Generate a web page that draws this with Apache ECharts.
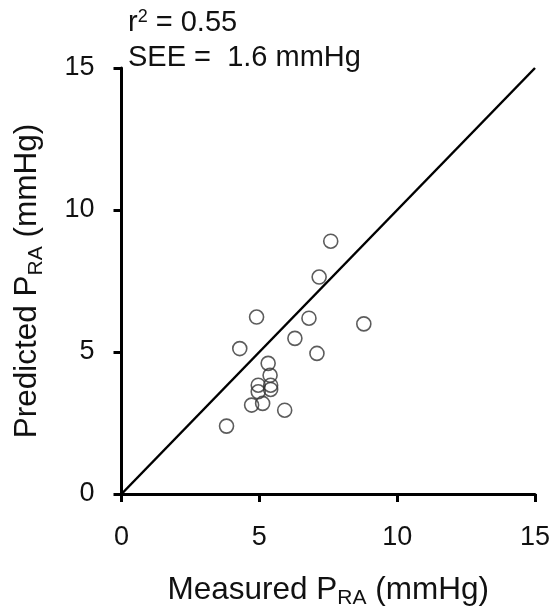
<!DOCTYPE html>
<html>
<head>
<meta charset="utf-8">
<script src="https://cdn.jsdelivr.net/npm/echarts@6/dist/echarts.min.js"></script>
<style>
  html, body { margin: 0; padding: 0; background: #fff; }
  #chart { width: 553px; height: 610px; }
</style>
</head>
<body>
<div id="chart"></div>
<script>
// Measured vs predicted right atrial pressure (mmHg)
const measured  = [7.59, 7.17, 4.90, 6.80, 8.79, 6.29, 4.29, 7.09, 5.32, 5.39, 4.96, 5.41, 5.41, 4.96, 4.72, 5.12, 5.92, 3.81];
const predicted = [8.90, 7.64, 6.23, 6.19, 5.99, 5.48, 5.12, 4.95, 4.60, 4.18, 3.83, 3.83, 3.68, 3.60, 3.13, 3.19, 2.95, 2.39];
// line of identity
const identityX = [0, 15];
const identityY = [0, 15];
const axisTicks = [0, 5, 10, 15];
const r2Value = '0.55';
const seeValue = '1.6';

const FONT = '"Liberation Sans", Arial, sans-serif';

const chart = echarts.init(document.getElementById('chart'), null, { renderer: 'canvas' });

const axisCommon = {
  type: 'value',
  min: axisTicks[0],
  max: axisTicks[axisTicks.length - 1],
  interval: axisTicks[1] - axisTicks[0],
  splitLine: { show: false },
  axisLine: { show: true, onZero: false, lineStyle: { color: '#000', width: 3 } },
  axisTick: { show: true, inside: false, length: 8, lineStyle: { color: '#000', width: 3 } },
  axisLabel: { color: '#111', fontSize: 27, fontFamily: FONT },
  nameLocation: 'middle',
  nameTextStyle: {
    color: '#111',
    fontFamily: FONT,
    rich: {
      a: { fontSize: 31.5, fontFamily: FONT, color: '#111' },
      s: { fontSize: 21, fontFamily: FONT, color: '#111', padding: [17, 0, 0, 0] }
    }
  }
};

chart.setOption({
  animation: false,
  grid: { left: 121.5, right: 18, top: 68, bottom: 116, containLabel: false, outerBoundsMode: 'none' },
  xAxis: Object.assign({}, axisCommon, {
    name: '{a|Measured P}{s|RA}{a| (mmHg)}',
    nameGap: 77,
    axisLabel: Object.assign({}, axisCommon.axisLabel, { margin: 30 })
  }),
  yAxis: Object.assign({}, axisCommon, {
    name: '{a|Predicted P}{s|RA}{a| (mmHg)}',
    nameGap: 75,
    axisLabel: Object.assign({}, axisCommon.axisLabel, { margin: 27 })
  }),
  graphic: [
    {
      type: 'text', left: 128, top: 8,
      style: {
        text: '{a|r}{p|2}{a| = ' + r2Value + '}',
        rich: {
          a: { fontSize: 29, fontFamily: FONT, fill: '#111' },
          p: { fontSize: 18, fontFamily: FONT, fill: '#111', padding: [0, 0, 12, 0] }
        }
      }
    },
    {
      type: 'text', left: 128, top: 43,
      style: { text: 'SEE =  ' + seeValue + ' mmHg', font: '29px ' + FONT, fill: '#111' }
    }
  ],
  series: [
    {
      type: 'line',
      data: identityX.map((x, i) => [x, identityY[i]]),
      showSymbol: false,
      symbol: 'none',
      lineStyle: { color: '#000', width: 2.5 },
      z: 2
    },
    {
      type: 'scatter',
      data: measured.map((x, i) => [x, predicted[i]]),
      symbol: 'circle',
      symbolSize: 14,
      itemStyle: { color: 'rgba(0,0,0,0)', borderColor: '#333', borderWidth: 1.6 },
      z: 3
    }
  ]
});
</script>
</body>
</html>
